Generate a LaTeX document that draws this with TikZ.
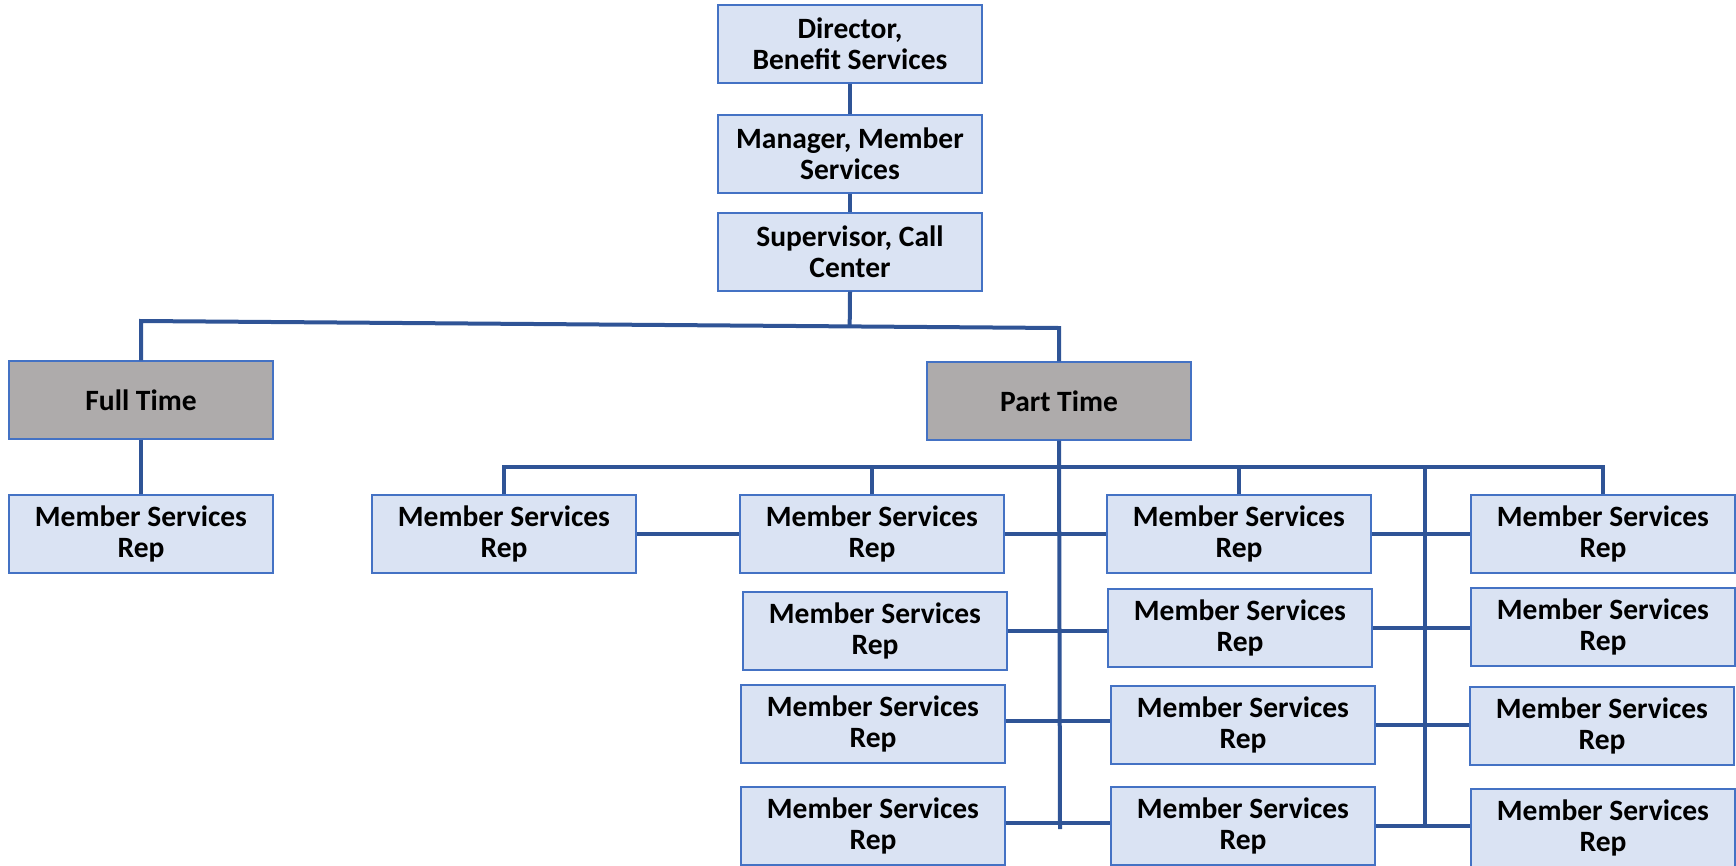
\documentclass[tikz,border=0pt]{standalone}
\usepackage{fontspec}
\setmainfont{Carlito}
\usetikzlibrary{calc}
\definecolor{linkblue}{RGB}{47,84,150}
\definecolor{boxedge}{RGB}{68,114,196}
\definecolor{boxfill}{RGB}{218,227,243}
\definecolor{groupfill}{RGB}{174,171,171}
\tikzset{
  unit/.style={draw=boxedge, line width=1.4pt, fill=boxfill, minimum width=264pt,
    minimum height=78pt, inner sep=0pt, align=center,
    font=\fontsize{29.5}{31}\selectfont\bfseries},
  group/.style={unit, fill=groupfill},
  link/.style={draw=linkblue, line width=4pt}
}
\begin{document}
\begin{tikzpicture}[x=1pt, y=-1pt]
\useasboundingbox (0,0) rectangle (1736,865);

% management chain
\node[unit] (dir) at (850,44) {Director,\\Benefit Services};
\node[unit] (mgr) at (850,154) {Manager, Member\\Services};
\node[unit] (sup) at (850,252) {Supervisor, Call\\Center};

% staff groups
\node[group] (ft) at (141,400) {Full Time};
\node[group] (pt) at (1059,401) {Part Time};

% full-time rep
\node[unit] (ftr) at (141,534) {Member Services\\Rep};

% part-time reps, row by row
\node[unit] (r1a) at (504,534) {Member Services\\Rep};
\node[unit] (r1b) at (872,534) {Member Services\\Rep};
\node[unit] (r1c) at (1239,534) {Member Services\\Rep};
\node[unit] (r1d) at (1603,534) {Member Services\\Rep};

\node[unit] (r2b) at (875,631) {Member Services\\Rep};
\node[unit] (r2c) at (1240,628) {Member Services\\Rep};
\node[unit] (r2d) at (1603,627) {Member Services\\Rep};

\node[unit] (r3b) at (873,724) {Member Services\\Rep};
\node[unit] (r3c) at (1243,725) {Member Services\\Rep};
\node[unit] (r3d) at (1602,726) {Member Services\\Rep};

\node[unit] (r4b) at (873,826) {Member Services\\Rep};
\node[unit] (r4c) at (1243,826) {Member Services\\Rep};
\node[unit] (r4d) at (1603,828) {Member Services\\Rep};

% bus coordinates
\coordinate (tl) at (141,321);
\coordinate (tr) at (1059,328);
\coordinate (bl) at (504,467);
\coordinate (br) at (1603,467);
\coordinate (m4) at (1060,829);
\coordinate (s0) at (1425,467);
\coordinate (s4) at (1425,827);

% chain links
\path[link] (dir.south) -- (mgr.north);
\path[link] (mgr.south) -- (sup.north);

% split into the two groups
\path[link] (ft.north) -- (tl) -- (tr) -- (pt.north);
\path[link] (sup.south) -- ($(tl)!(sup.south)!(tr)$);
\path[link] (ft.south) -- (ftr.north);

% part-time bus and drops
\path[link] (r1a.north) -- (r1a.north |- bl) -- (br) -- (r1d.north);
\path[link] (r1b.north) -- (r1b.north |- bl);
\path[link] (r1c.north) -- (r1c.north |- bl);

% trunks
\path[link] (pt.south) -- (m4);
\path[link] (s0) -- (s4);

% row ties
\path[link] (r1a.east) -- (r1b.west);
\path[link] (r1b.east) -- (r1c.west);
\path[link] (r1c.east) -- (r1d.west);
\path[link] (r2b.east) -- (r2b.east -| r2c.west);
\path[link] (r2c.east) -- (r2c.east -| r2d.west);
\path[link] ([yshift=3pt]r3b.east) -- ([yshift=3pt]r3b.east -| r3c.west);
\path[link] (r3c.east) -- (r3c.east -| r3d.west);
\path[link] ([yshift=3pt]r4b.east) -- ([yshift=3pt]r4b.east -| r4c.west);
\path[link] (r4c.east) -- (r4c.east -| r4d.west);
\end{tikzpicture}
\end{document}
